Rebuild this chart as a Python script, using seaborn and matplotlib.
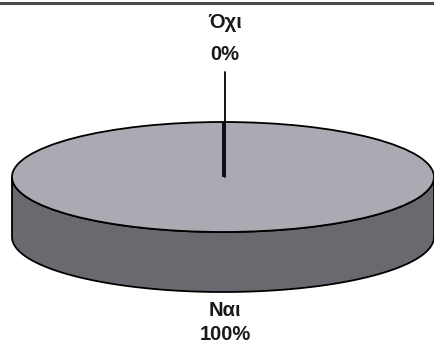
import numpy as np
import matplotlib
matplotlib.use("Agg")
import matplotlib.pyplot as plt
import seaborn as sns
from matplotlib.patches import Polygon
from matplotlib.transforms import Affine2D

# Survey answers and their shares (%)
labels = ["Ναι", "Όχι"]
shares = [100, 0]

top_colors = ["#abaab2", "#c8c8cc"]
side_colors = ["#6a6970", "#8e8d94"]

sns.set_theme(style="white")
plt.rcParams["font.family"] = ["Liberation Sans", "DejaVu Sans"]

W, H = 435, 345
fig = plt.figure(figsize=(W / 100, H / 100), dpi=100)
ax = fig.add_axes([0, 0, 1, 1])
ax.set_xlim(0, W)
ax.set_ylim(0, H)

# Geometry of the tilted disc (pixel-like units, y up)
cx, cy = 223, H - 177
rx, ry = 211, 55
depth = 60

wedges, _ = ax.pie(shares, startangle=90, counterclock=True, radius=rx,
                   center=(cx, cy), colors=top_colors, frame=True,
                   wedgeprops=dict(edgecolor="black", linewidth=1.3))

# Flatten the circular pie into an ellipse around its centre
squash = Affine2D().translate(-cx, -cy).scale(1, ry / rx).translate(cx, cy)
for w in wedges:
    w.set_transform(squash + ax.transData)
    w.set_zorder(3)

# Side walls: the front-facing part (180°..360°) of every wedge
for w, col in zip(wedges, side_colors):
    t1, t2 = w.theta1, w.theta2
    for k in (-360, 0, 360):
        a, b = max(t1, 180 + k), min(t2, 360 + k)
        if b <= a:
            continue
        t = np.radians(np.linspace(a, b, 200))
        xs = cx + rx * np.cos(t)
        ys = cy + ry * np.sin(t)
        pts = np.concatenate([np.column_stack([xs, ys]),
                              np.column_stack([xs[::-1], ys[::-1] - depth])])
        ax.add_patch(Polygon(pts, closed=True, facecolor=col,
                             edgecolor="black", linewidth=1.3, zorder=2))

# Slice labels with percentages
style = dict(ha="center", va="baseline", fontsize=14.5, fontweight="bold",
             color="#1a1a1a", zorder=5)
lx = cx + 2
for w, lab, val in zip(wedges, labels, shares):
    mid = np.radians((w.theta1 + w.theta2) / 2)
    if np.sin(mid) < 0:
        base = cy - ry - depth
        ax.text(lx, base - 24, lab, **style)
        ax.text(lx, base - 48, f"{val:.0f}%", **style)
    else:
        base = cy + ry
        ax.text(lx, base + 94, lab, **style)
        ax.text(lx, base + 62, f"{val:.0f}%", **style)
        # leader line from the disc centre up to the label
        ax.plot([lx, lx], [cy, H - 72], color="black", lw=1.3, zorder=4)

# Thin frame rule along the top edge
ax.axhline(H - 2.5, color="#4a4a4a", lw=2.2, zorder=6)

ax.set_aspect("auto")
ax.set_xlim(0, W)
ax.set_ylim(0, H)
ax.axis("off")

fig.savefig("out.png", dpi=100, facecolor="white")
